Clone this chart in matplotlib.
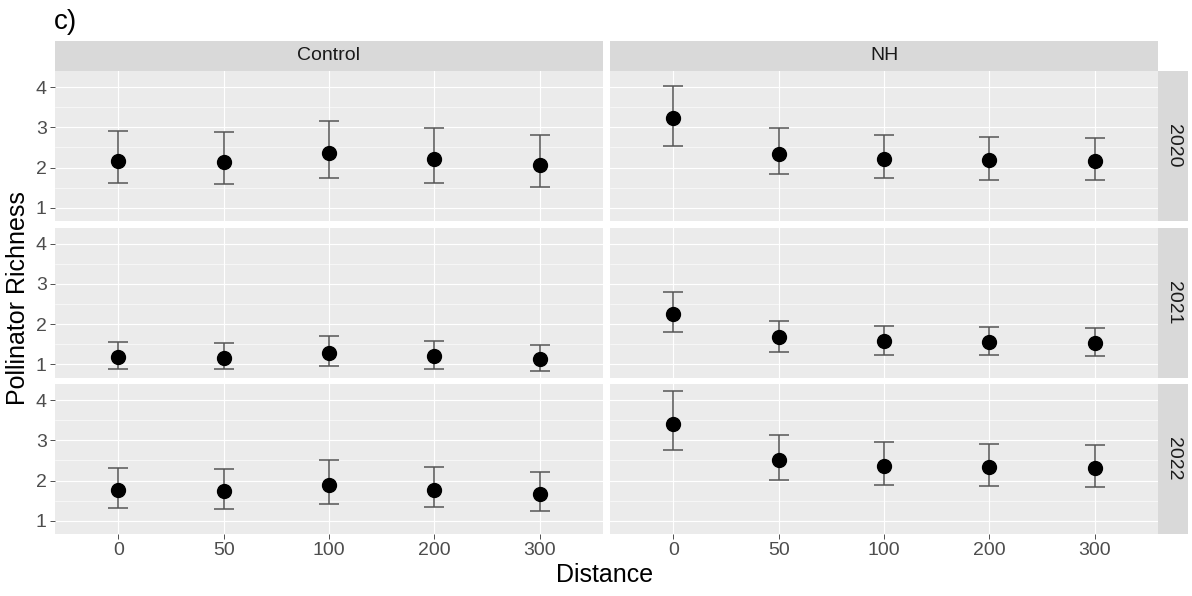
import matplotlib
matplotlib.use('Agg')
import matplotlib.pyplot as plt
import numpy as np

plt.rcParams['font.family'] = ['Liberation Sans', 'DejaVu Sans']

distances = ['0', '50', '100', '200', '300']
sites = ['Control', 'NH']
years = ['2020', '2021', '2022']

# mean richness and error bar limits, per year then site
means = {
    '2020': {'Control': [2.16, 2.13, 2.37, 2.20, 2.06],
             'NH': [3.22, 2.34, 2.21, 2.18, 2.16]},
    '2021': {'Control': [1.18, 1.15, 1.27, 1.20, 1.13],
             'NH': [2.25, 1.67, 1.57, 1.55, 1.53]},
    '2022': {'Control': [1.76, 1.73, 1.88, 1.77, 1.66],
             'NH': [3.41, 2.50, 2.36, 2.33, 2.31]},
}
upper = {
    '2020': {'Control': [2.90, 2.89, 3.16, 2.98, 2.81],
             'NH': [4.03, 2.98, 2.81, 2.77, 2.74]},
    '2021': {'Control': [1.56, 1.54, 1.70, 1.59, 1.49],
             'NH': [2.80, 2.08, 1.95, 1.93, 1.91]},
    '2022': {'Control': [2.30, 2.28, 2.51, 2.34, 2.21],
             'NH': [4.23, 3.12, 2.96, 2.91, 2.89]},
}
lower = {
    '2020': {'Control': [1.61, 1.59, 1.75, 1.61, 1.52],
             'NH': [2.53, 1.85, 1.73, 1.70, 1.68]},
    '2021': {'Control': [0.87, 0.87, 0.96, 0.89, 0.84],
             'NH': [1.79, 1.31, 1.23, 1.23, 1.21]},
    '2022': {'Control': [1.31, 1.28, 1.42, 1.33, 1.23],
             'NH': [2.75, 2.01, 1.88, 1.86, 1.83]},
}

W, H = 1192, 596
fig = plt.figure(figsize=(W / 100, H / 100), dpi=100)


def box(x0, y0, x1, y1):
    # pixel box (top-left origin) -> figure fraction rect
    return [x0 / W, 1 - y1 / H, (x1 - x0) / W, (y1 - y0) / H]


cols = [(55, 603), (610, 1158)]
rows = [(71, 221), (227.5, 377.5), (384, 534)]

lo_all = min(min(v) for y in lower.values() for v in y.values())
hi_all = max(max(v) for y in upper.values() for v in y.values())
pad = 0.05 * (hi_all - lo_all)
ylim = (lo_all - pad, hi_all + pad)

panel_bg = '#EBEBEB'
strip_bg = '#D9D9D9'
x = np.arange(1, len(distances) + 1)

for r, year in enumerate(years):
    for c, site in enumerate(sites):
        ax = fig.add_axes(box(cols[c][0], rows[r][0], cols[c][1], rows[r][1]))
        ax.set_facecolor(panel_bg)
        for s in ax.spines.values():
            s.set_visible(False)
        ax.set_xlim(0.4, 5.6)
        ax.set_ylim(*ylim)
        ax.set_yticks([1, 2, 3, 4])
        ax.set_yticks([1.5, 2.5, 3.5], minor=True)
        ax.set_xticks(x)
        ax.grid(which='major', color='white', linewidth=0.8)
        ax.grid(which='minor', axis='y', color='white', linewidth=0.4)
        ax.set_axisbelow(True)
        ax.tick_params(which='minor', length=0)
        ax.tick_params(which='major', length=3.5, width=0.6, color='#333333',
                       labelsize=14, labelcolor='#4D4D4D', pad=2.5)
        if c == 0:
            ax.set_yticklabels(['1', '2', '3', '4'])
        else:
            ax.tick_params(axis='y', length=0, labelleft=False)
        if r == len(years) - 1:
            ax.set_xticklabels(distances)
        else:
            ax.tick_params(axis='x', length=0, labelbottom=False)

        m = np.array(means[year][site])
        u = np.array(upper[year][site])
        lw = np.array(lower[year][site])
        ax.errorbar(x, m, yerr=[m - lw, u - m], fmt='none', ecolor='#555555',
                    elinewidth=1.1, capsize=7.5, capthick=1.1, zorder=3)
        ax.plot(x, m, 'o', color='black', markersize=10, zorder=4)

        if r == 0:
            sax = fig.add_axes(box(cols[c][0], 41, cols[c][1], 71))
            sax.set_facecolor(strip_bg)
            sax.set_xticks([])
            sax.set_yticks([])
            for s in sax.spines.values():
                s.set_visible(False)
            sax.text(0.5, 0.5, site, ha='center', va='center', fontsize=14,
                     color='#1A1A1A', transform=sax.transAxes)
        if c == len(sites) - 1:
            sax = fig.add_axes(box(1158, rows[r][0], 1188, rows[r][1]))
            sax.set_facecolor(strip_bg)
            sax.set_xticks([])
            sax.set_yticks([])
            for s in sax.spines.values():
                s.set_visible(False)
            sax.text(0.5, 0.5, year, ha='center', va='center', fontsize=14,
                     color='#1A1A1A', rotation=-90, transform=sax.transAxes)

fig.text(54 / W, 1 - 22 / H, 'c)', fontsize=20, ha='left', va='center')
fig.text(605 / W, 1 - 575 / H, 'Distance', fontsize=18, ha='center', va='center')
fig.text(18 / W, 1 - 298 / H, 'Pollinator Richness', fontsize=18,
         ha='center', va='center', rotation=90)

fig.savefig('out.png', dpi=100)
